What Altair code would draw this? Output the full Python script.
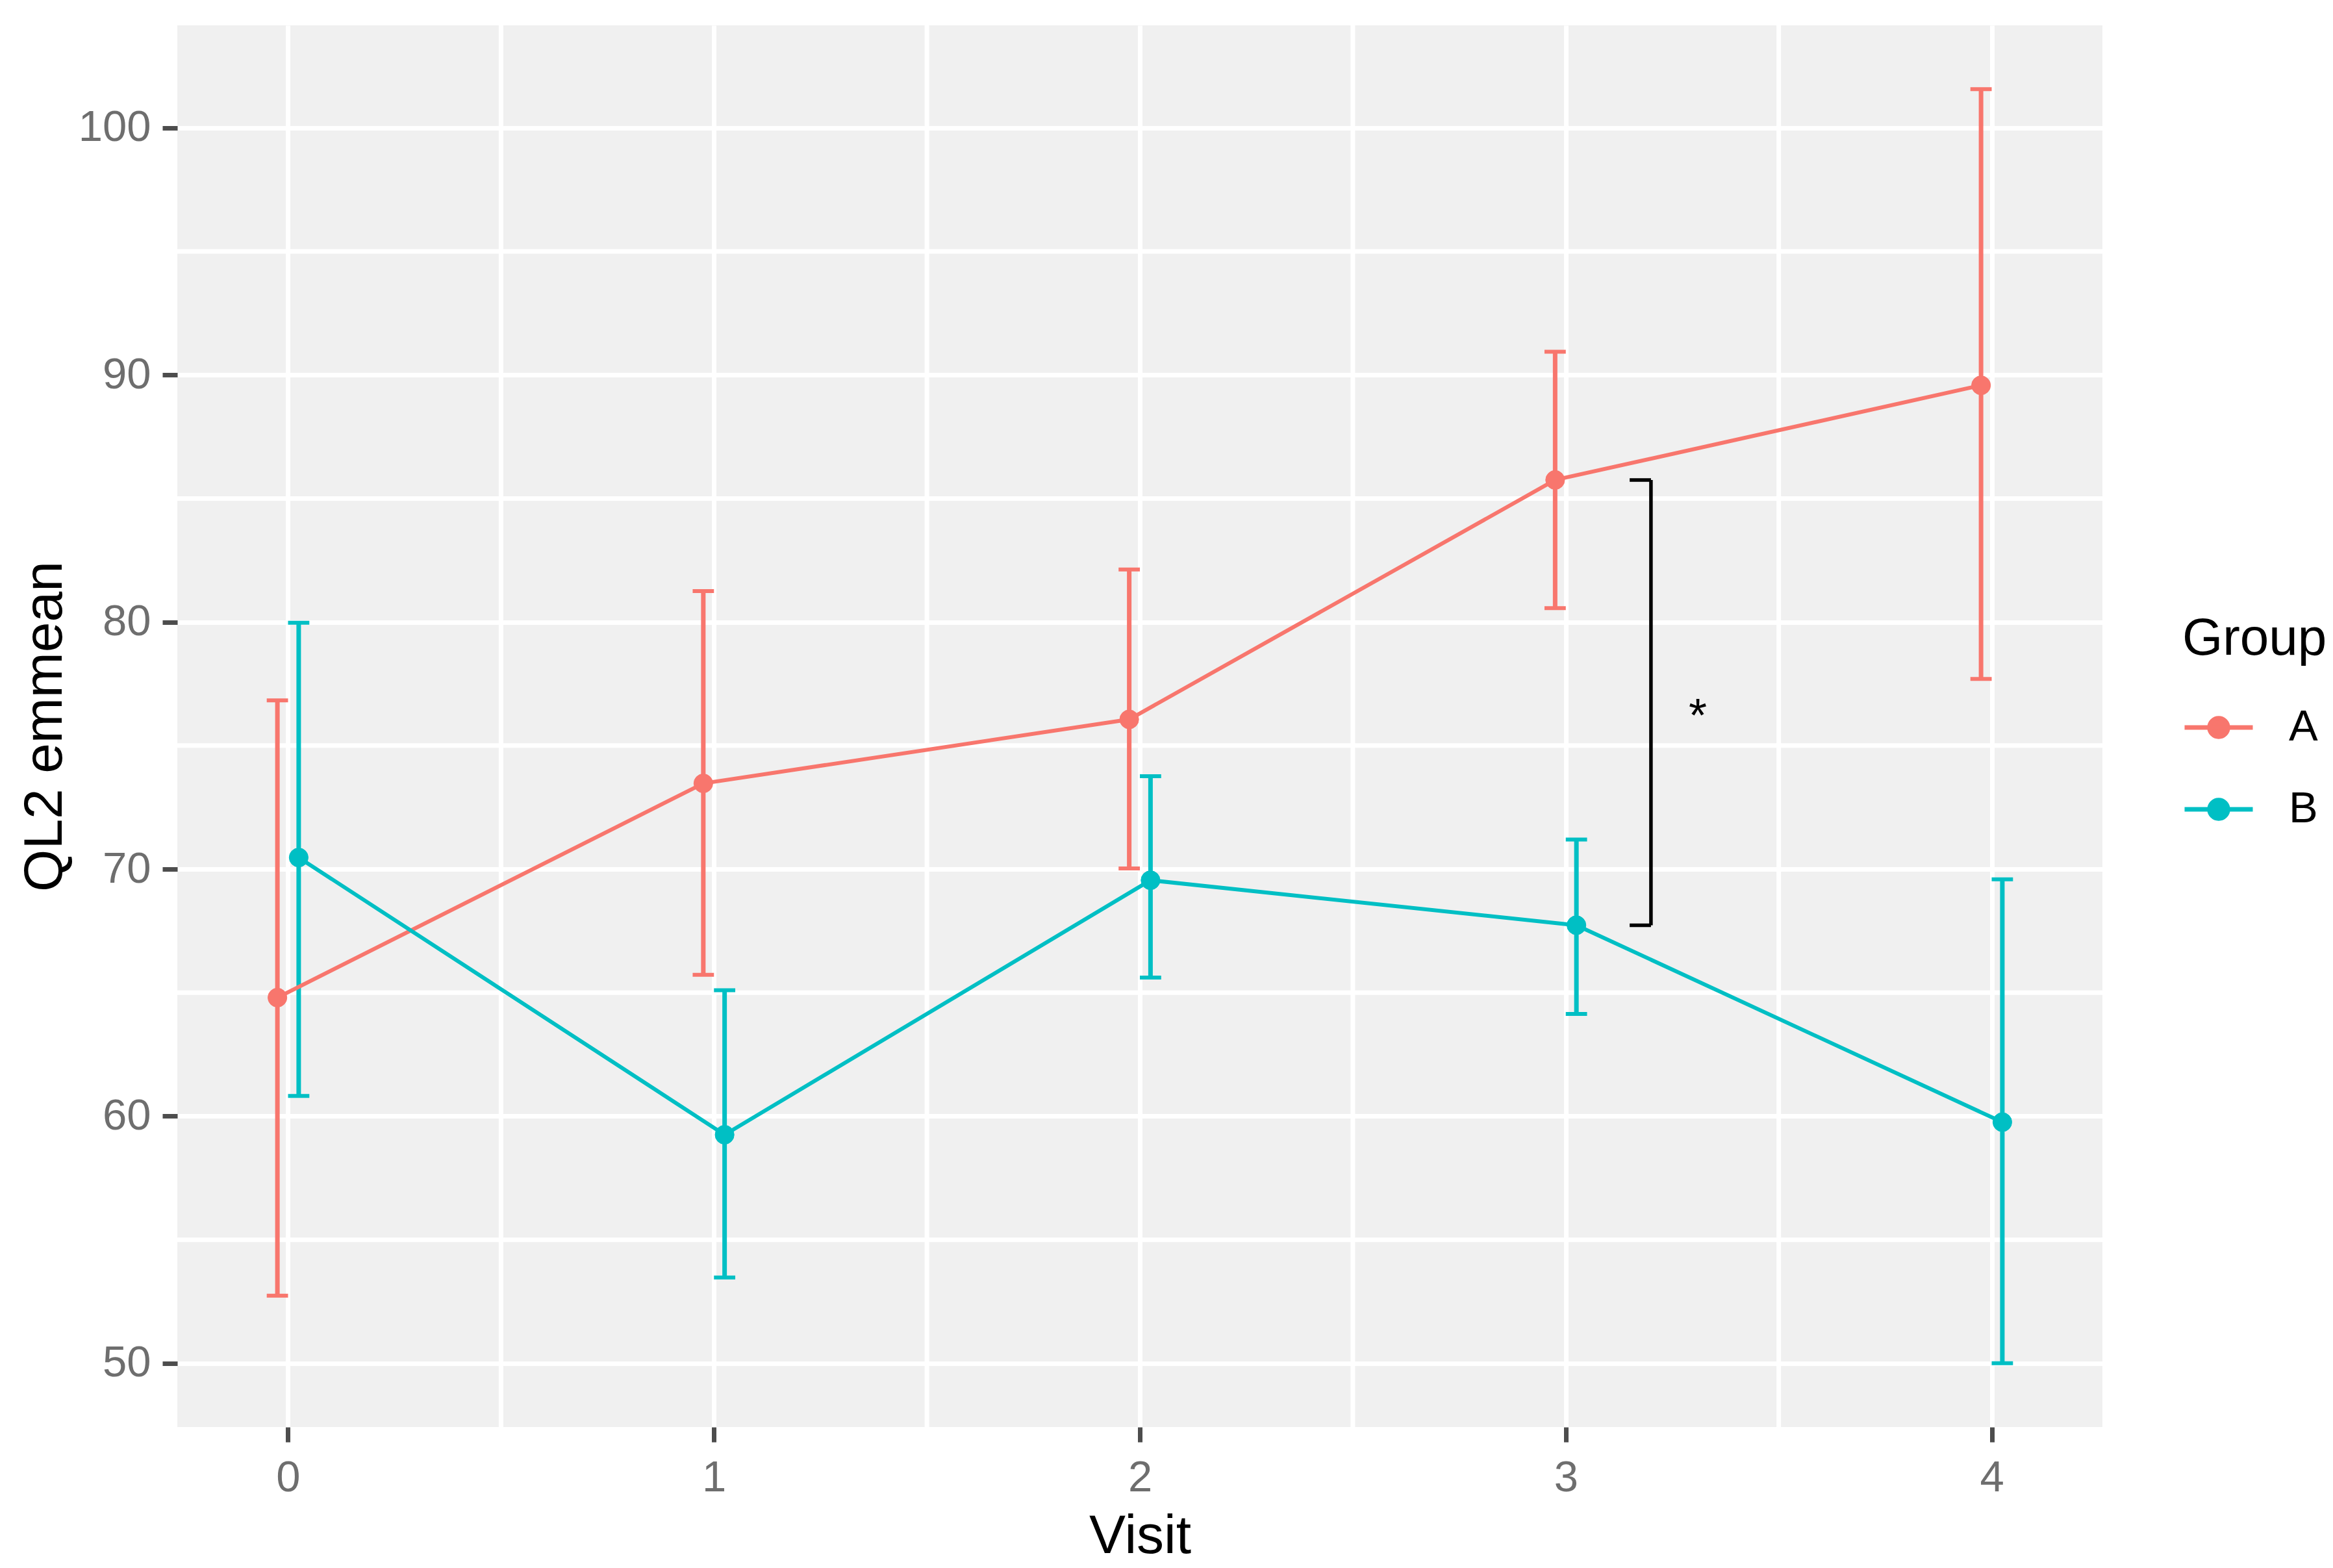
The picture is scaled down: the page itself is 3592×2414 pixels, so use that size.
import altair as alt
import pandas as pd

# ---------------- data ----------------
visits = [0, 1, 2, 3, 4]
groups = ["A", "B"]
a_mean = [64.80, 73.47, 76.06, 85.75, 89.58]
a_low = [52.74, 65.72, 70.03, 80.56, 77.70]
a_high = [76.83, 81.25, 82.13, 90.94, 101.57]
b_mean = [70.47, 59.25, 69.55, 67.73, 59.76]
b_low = [60.82, 53.47, 65.61, 64.14, 50.00]
b_high = [79.97, 65.10, 73.76, 71.20, 69.59]

x_ticks = [0, 1, 2, 3, 4]
y_ticks = [50, 60, 70, 80, 90, 100]
x_minor = [0.5, 1.5, 2.5, 3.5]
y_minor = [55, 65, 75, 85, 95]

# significance annotation at visit 3
sig_visit = 3
sig_bracket_x = 3.20
sig_tick_x = 3.15
sig_star_x = 3.31
sig_label = "*"

colors = ["#F8766D", "#00BFC4"]

# ---------------- tables ----------------
rows = []
for g, m, lo, hi in [("A", a_mean, a_low, a_high), ("B", b_mean, b_low, b_high)]:
    for v, mm, l, h in zip(visits, m, lo, hi):
        rows.append({"Visit": v, "Group": g, "mean": mm, "lo": l, "hi": h})
df = pd.DataFrame(rows)

ya = a_mean[visits.index(sig_visit)]
yb = b_mean[visits.index(sig_visit)]
bracket = pd.DataFrame({"x": [sig_bracket_x], "xt": [sig_tick_x], "ya": [ya], "yb": [yb],
                        "xs": [sig_star_x], "ym": [(ya + yb) / 2], "lab": [sig_label]})
ends = pd.DataFrame({"x": [sig_tick_x, sig_tick_x], "x2": [sig_bracket_x, sig_bracket_x], "y": [ya, yb]})

FONT = "Liberation Sans"
W, H = 2964, 2158
DODGE = 0.025
CAP = 0.025

xscale = alt.Scale(domain=[-0.26, 4.26], nice=False, zero=False)
yscale = alt.Scale(domain=[47.42, 104.15], nice=False, zero=False)

AX_X = alt.Axis(values=x_ticks, title="Visit", grid=True, gridColor="white", gridWidth=7,
                domain=False, ticks=True, tickSize=23, tickWidth=7, tickColor="#4D4D4D",
                labelFont=FONT, labelFontSize=67, labelColor="#6E6E6E", labelPadding=22,
                titleFont=FONT, titleFontSize=84, titleFontWeight="normal", titleColor="black",
                titleX=W / 2, titleY=193, titleBaseline="alphabetic", titleAlign="center",
                format="d", labelFlush=False)
AX_Y = alt.Axis(values=y_ticks, title="QL2 emmean", grid=True, gridColor="white", gridWidth=7,
                domain=False, ticks=True, tickSize=23, tickWidth=7, tickColor="#4D4D4D",
                labelFont=FONT, labelFontSize=67, labelColor="#6E6E6E", labelPadding=18,
                titleFont=FONT, titleFontSize=84, titleFontWeight="normal", titleColor="black",
                titleX=-179, titleY=H / 2, titleAngle=270, titleBaseline="alphabetic", titleAlign="center",
                labelFlush=False)


def X(f):
    return alt.X(f, type="quantitative", scale=xscale, axis=AX_X)


def Y(f):
    return alt.Y(f, type="quantitative", scale=yscale, axis=AX_Y)


legend_path = "M-1,0H1M0.27,0A0.27,0.27,0,1,1,-0.27,0A0.27,0.27,0,1,1,0.27,0Z"
leg = alt.Legend(title="Group", orient="none", legendX=3087, legendY=906,
                 symbolType=legend_path, symbolSize=11025, symbolStrokeWidth=7, symbolOpacity=1,
                 titleFont=FONT, titleFontSize=80, titleFontWeight="normal", titleColor="black",
                 titleLimit=2000, labelLimit=2000,
                 labelFont=FONT, labelFontSize=67, labelColor="black",
                 titlePadding=39, rowPadding=37, labelOffset=52, padding=0)


def stroke_enc():
    return alt.Stroke("Group:N", scale=alt.Scale(domain=groups, range=colors), legend=leg)


base = alt.Chart(df).transform_calculate(
    xd=f"datum.Visit + (datum.Group == 'A' ? {-DODGE} : {DODGE})"
).transform_calculate(
    x1=f"datum.xd - {CAP}", x2=f"datum.xd + {CAP}"
)

minor_x = alt.Chart(pd.DataFrame({"v": x_minor})).mark_rule(color="white", strokeWidth=7).encode(x=X("v"))
minor_y = alt.Chart(pd.DataFrame({"v": y_minor})).mark_rule(color="white", strokeWidth=7).encode(y=Y("v"))

err = base.mark_rule(strokeWidth=7).encode(x=X("xd"), y=Y("lo"), y2="hi", stroke=stroke_enc())
cap_lo = base.mark_rule(strokeWidth=6).encode(x=X("x1"), x2="x2", y=Y("lo"), stroke=stroke_enc())
cap_hi = base.mark_rule(strokeWidth=6).encode(x=X("x1"), x2="x2", y=Y("hi"), stroke=stroke_enc())
line = base.mark_line(strokeWidth=6).encode(x=X("xd"), y=Y("mean"), stroke=stroke_enc(), detail="Group:N")

points = base.mark_point(filled=True, size=850, opacity=1, strokeWidth=1).encode(
    x=X("xd"), y=Y("mean"),
    fill=alt.Fill("Group:N", scale=alt.Scale(domain=groups, range=colors), legend=leg),
    stroke=stroke_enc(),
)

br_v = alt.Chart(bracket).mark_rule(color="black", strokeWidth=5.5).encode(x=X("x"), y=Y("ya"), y2="yb")
br_ends = alt.Chart(ends).mark_rule(color="black", strokeWidth=5.5).encode(x=X("x"), x2="x2", y=Y("y"))
star = alt.Chart(bracket).mark_text(font=FONT, fontSize=72, color="black", baseline="middle",
                                    align="center", dy=22).encode(x=X("xs"), y=Y("ym"), text="lab:N")

chart = alt.layer(minor_x, minor_y, err, cap_lo, cap_hi, line, points, br_v, br_ends, star).properties(
    width=W, height=H,
    background="white",
    autosize=alt.AutoSizeParams(type="none"),
    padding={"left": 265, "top": 31, "right": 347, "bottom": 215},
).configure_view(fill="#F0F0F0", strokeWidth=0)

chart.save("out.html", embed_options={"renderer": "svg", "actions": False})
